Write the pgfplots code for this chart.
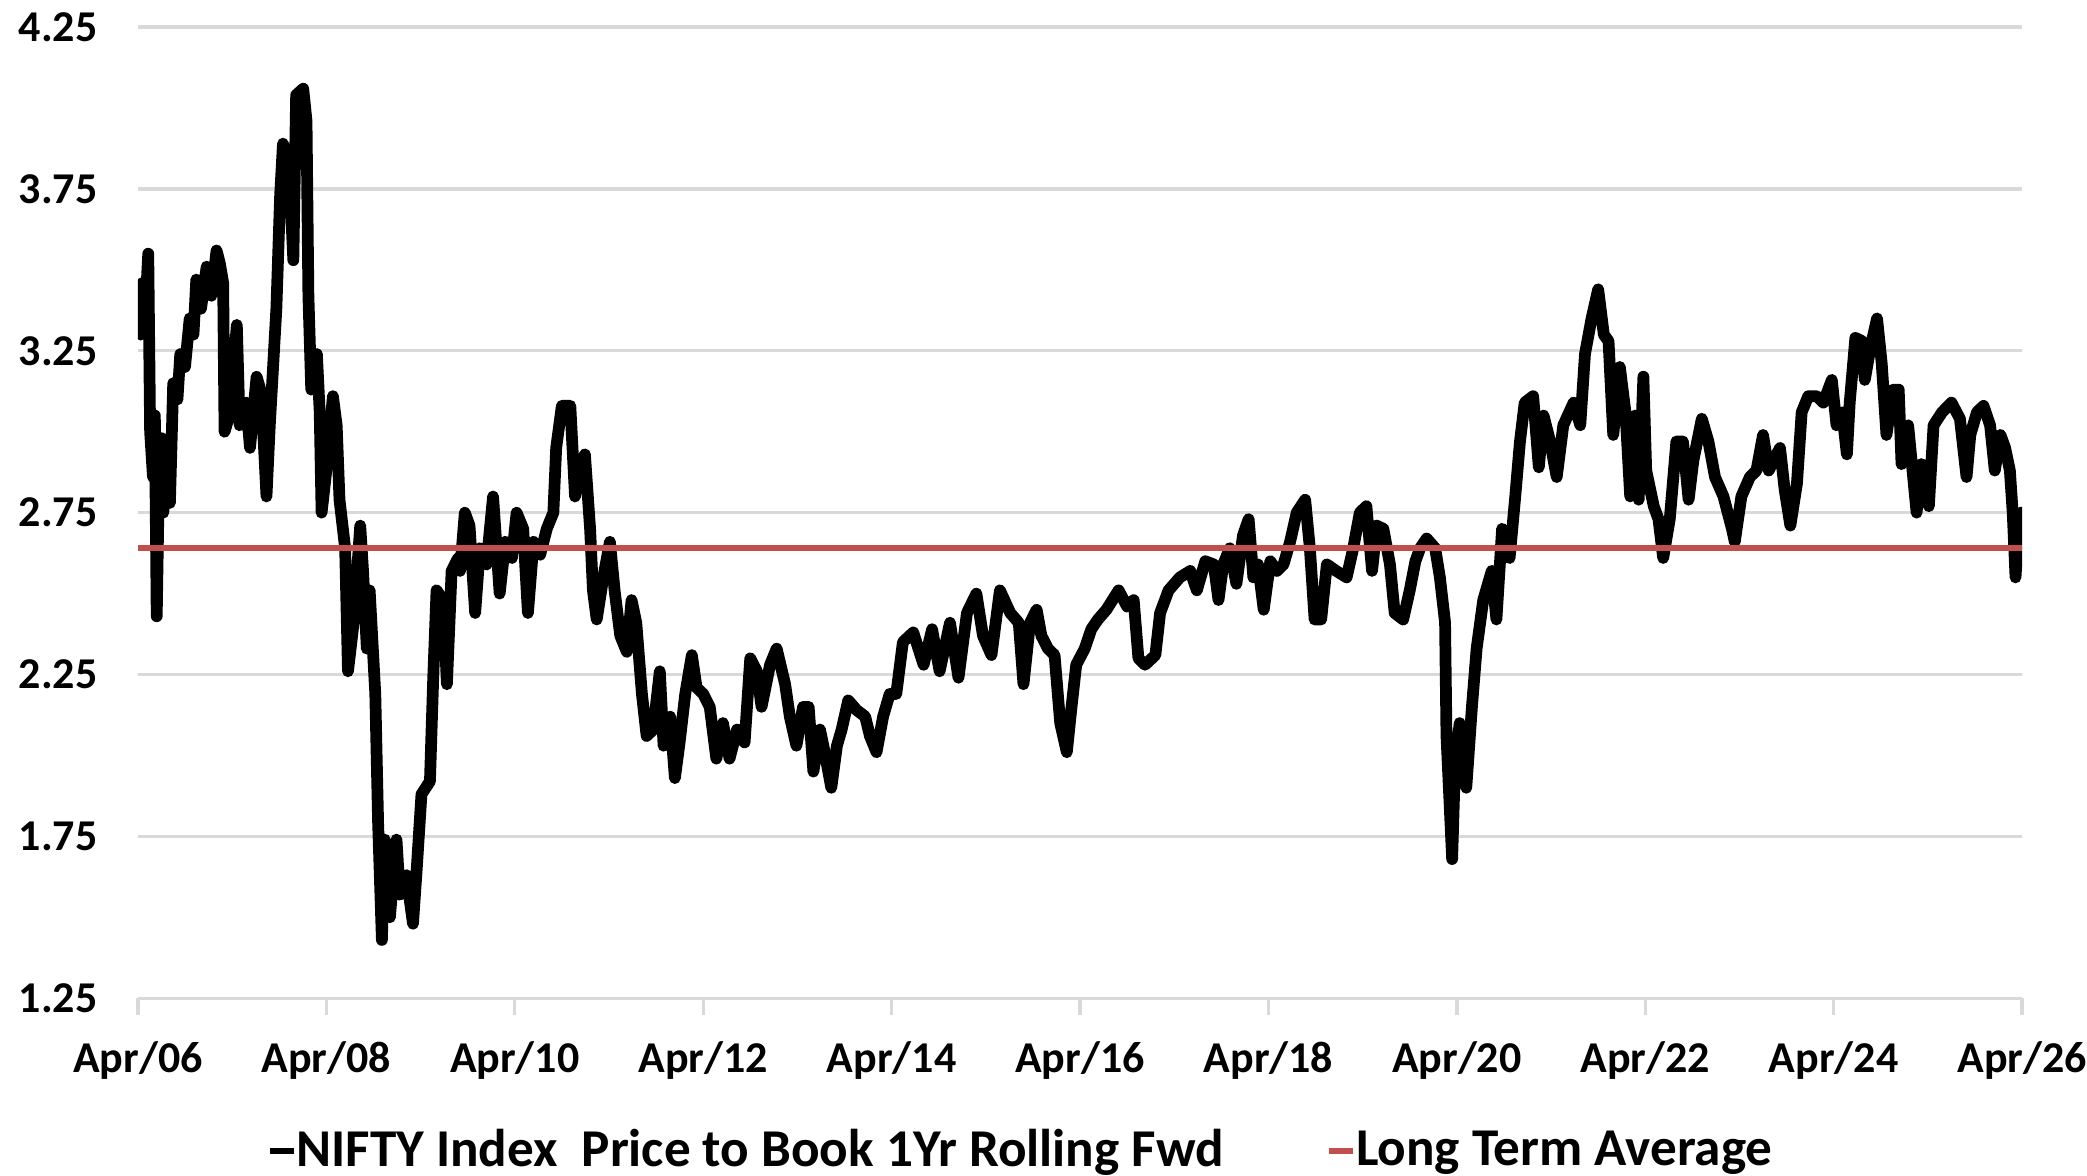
\documentclass[border=0pt]{standalone}
\usepackage{fontspec}
\setmainfont{Carlito}
\usepackage{pgfplots}
\pgfplotsset{compat=1.18}
\definecolor{ltared}{RGB}{192,80,77}
\definecolor{gridgray}{RGB}{217,217,217}

\begin{document}
\begin{tikzpicture}
\begin{axis}[
  at={(0,0)}, anchor=south west,
  scale only axis, width=513.8pt, height=264.8pt,
  xmin=2006.25, xmax=2026.25, ymin=1.25, ymax=4.25,
  xtick={2006.25,2008.25,2010.25,2012.25,2014.25,2016.25,2018.25,2020.25,2022.25,2024.25,2026.25},
  xticklabels={Apr/06,Apr/08,Apr/10,Apr/12,Apr/14,Apr/16,Apr/18,Apr/20,Apr/22,Apr/24,Apr/26},
  ytick={1.25,1.75,2.25,2.75,3.25,3.75,4.25},
  yticklabel style={/pgf/number format/fixed, /pgf/number format/precision=2,
    /pgf/number format/fixed zerofill, xshift=-2.9pt},
  xticklabel style={yshift=-3.8pt},
  /pgf/number format/assume math mode=true,
  tick label style={font=\bfseries\fontsize{12}{14}\selectfont},
  axis x line*=bottom, axis y line*=left,
  x axis line style={draw=gridgray, line width=0.9pt},
  y axis line style={draw=none},
  ymajorgrids, grid style={gridgray, line width=0.9pt},
  ytick style={draw=none},
  xtick style={draw=gridgray, line width=0.9pt},
  tick align=outside, major tick length=4.6pt,
  legend columns=2,
  legend style={at={(axis description cs:0.068,-0.157)}, anchor=west,
    draw=none, fill=none, inner sep=0pt,
    font=\bfseries\fontsize{14.5}{17}\selectfont,
    nodes={inner sep=0pt},
    /tikz/every even column/.append style={column sep=28pt}},
  legend image code/.code={\draw[#1, line width=1.6pt, line cap=butt] (0pt,0pt) -- (6.5pt,0pt);},
]
\addplot[black, line width=3.2pt, line join=round, line cap=round] coordinates {
(2006.26,3.42) (2006.28,3.30) (2006.30,3.46) (2006.33,3.38) (2006.36,3.55) (2006.38,3.00)
(2006.41,2.86) (2006.43,3.05) (2006.45,2.43) (2006.47,2.80) (2006.50,2.98) (2006.52,2.75)
(2006.56,2.95) (2006.59,2.78) (2006.625,3.15) (2006.67,3.10) (2006.70,3.24) (2006.75,3.20)
(2006.80,3.35) (2006.84,3.30) (2006.87,3.47) (2006.92,3.38) (2006.98,3.51) (2007.03,3.42)
(2007.085,3.56) (2007.12,3.52) (2007.155,3.46) (2007.17,3.00) (2007.23,3.06) (2007.30,3.33)
(2007.33,3.02) (2007.40,3.09) (2007.44,2.95) (2007.51,3.17) (2007.56,3.12) (2007.615,2.80)
(2007.65,3.02) (2007.72,3.38) (2007.76,3.73) (2007.79,3.89) (2007.86,3.78) (2007.90,3.53)
(2007.93,4.04) (2008.005,4.06) (2008.04,3.96) (2008.06,3.42) (2008.09,3.13) (2008.15,3.24)
(2008.18,3.06) (2008.20,2.75) (2008.25,2.88) (2008.32,3.11) (2008.36,3.02) (2008.39,2.79)
(2008.45,2.64) (2008.48,2.26) (2008.54,2.41) (2008.61,2.71) (2008.64,2.57) (2008.68,2.33)
(2008.71,2.51) (2008.77,2.19) (2008.80,1.79) (2008.84,1.43) (2008.87,1.74) (2008.925,1.50)
(2008.995,1.74) (2009.03,1.57) (2009.10,1.63) (2009.17,1.48) (2009.21,1.65) (2009.26,1.88)
(2009.35,1.92) (2009.385,2.24) (2009.42,2.51) (2009.49,2.48) (2009.53,2.22) (2009.58,2.57)
(2009.65,2.61) (2009.67,2.57) (2009.72,2.75) (2009.77,2.71) (2009.83,2.44) (2009.88,2.64)
(2009.95,2.59) (2010.02,2.80) (2010.09,2.50) (2010.15,2.66) (2010.22,2.61) (2010.27,2.75)
(2010.34,2.70) (2010.39,2.44) (2010.45,2.66) (2010.52,2.62) (2010.59,2.70) (2010.66,2.75)
(2010.69,2.95) (2010.75,3.08) (2010.84,3.08) (2010.89,2.80) (2010.94,2.88) (2010.995,2.93)
(2011.05,2.70) (2011.08,2.51) (2011.12,2.42) (2011.19,2.55) (2011.26,2.66) (2011.31,2.51)
(2011.37,2.37) (2011.44,2.32) (2011.49,2.48) (2011.54,2.41) (2011.60,2.19) (2011.65,2.06)
(2011.72,2.08) (2011.79,2.26) (2011.83,2.03) (2011.90,2.12) (2011.95,1.93) (2012.00,2.04)
(2012.06,2.19) (2012.13,2.31) (2012.18,2.21) (2012.25,2.19) (2012.32,2.15) (2012.39,1.99)
(2012.46,2.10) (2012.53,1.99) (2012.61,2.08) (2012.69,2.04) (2012.75,2.30) (2012.82,2.26)
(2012.87,2.15) (2012.96,2.28) (2013.03,2.33) (2013.12,2.22) (2013.17,2.12) (2013.24,2.03)
(2013.31,2.15) (2013.37,2.15) (2013.42,1.95) (2013.49,2.08) (2013.54,2.01) (2013.61,1.90)
(2013.67,2.03) (2013.72,2.08) (2013.79,2.17) (2013.88,2.14) (2013.97,2.12) (2014.02,2.06)
(2014.09,2.01) (2014.16,2.12) (2014.23,2.19) (2014.30,2.19) (2014.37,2.35) (2014.48,2.38)
(2014.59,2.28) (2014.68,2.39) (2014.76,2.26) (2014.87,2.41) (2014.96,2.24) (2015.05,2.44)
(2015.15,2.50) (2015.22,2.37) (2015.31,2.31) (2015.40,2.51) (2015.51,2.44) (2015.60,2.41)
(2015.65,2.22) (2015.72,2.41) (2015.79,2.45) (2015.84,2.37) (2015.91,2.33) (2015.98,2.31)
(2016.04,2.10) (2016.11,2.01) (2016.16,2.15) (2016.21,2.28) (2016.30,2.33) (2016.37,2.39)
(2016.44,2.42) (2016.53,2.45) (2016.66,2.51) (2016.75,2.46) (2016.82,2.48) (2016.87,2.30)
(2016.94,2.28) (2017.05,2.31) (2017.10,2.44) (2017.19,2.51) (2017.31,2.55) (2017.42,2.57)
(2017.49,2.51) (2017.58,2.60) (2017.67,2.59) (2017.72,2.48) (2017.77,2.59) (2017.84,2.64)
(2017.91,2.53) (2017.98,2.68) (2018.04,2.73) (2018.09,2.55) (2018.14,2.59) (2018.20,2.45)
(2018.27,2.60) (2018.34,2.57) (2018.41,2.59) (2018.48,2.66) (2018.55,2.75) (2018.64,2.79)
(2018.69,2.64) (2018.74,2.42) (2018.81,2.42) (2018.87,2.59) (2018.97,2.57) (2019.08,2.55)
(2019.15,2.64) (2019.22,2.75) (2019.29,2.77) (2019.35,2.57) (2019.40,2.71) (2019.47,2.70)
(2019.54,2.59) (2019.59,2.44) (2019.68,2.42) (2019.75,2.51) (2019.81,2.60) (2019.86,2.64)
(2019.93,2.67) (2020.02,2.64) (2020.07,2.55) (2020.125,2.41) (2020.14,2.06) (2020.20,1.68)
(2020.23,1.97) (2020.28,2.10) (2020.35,1.90) (2020.41,2.15) (2020.46,2.33) (2020.53,2.48)
(2020.62,2.57) (2020.67,2.42) (2020.73,2.70) (2020.81,2.61) (2020.87,2.80) (2020.92,2.97)
(2020.97,3.09) (2021.06,3.11) (2021.12,2.89) (2021.17,3.05) (2021.24,2.97) (2021.31,2.86)
(2021.38,3.02) (2021.49,3.09) (2021.56,3.02) (2021.61,3.24) (2021.68,3.35) (2021.75,3.44)
(2021.81,3.30) (2021.86,3.28) (2021.91,2.99) (2021.98,3.20) (2022.04,3.06) (2022.09,2.80)
(2022.14,3.05) (2022.18,2.79) (2022.23,3.17) (2022.26,2.88) (2022.34,2.77) (2022.39,2.73)
(2022.44,2.61) (2022.51,2.73) (2022.58,2.97) (2022.65,2.97) (2022.71,2.79) (2022.76,2.91)
(2022.85,3.04) (2022.92,2.97) (2022.99,2.86) (2023.08,2.80) (2023.17,2.70) (2023.20,2.66)
(2023.27,2.80) (2023.36,2.86) (2023.43,2.88) (2023.50,2.99) (2023.56,2.88) (2023.61,2.91)
(2023.68,2.95) (2023.73,2.82) (2023.79,2.71) (2023.86,2.84) (2023.91,3.06) (2023.98,3.11)
(2024.07,3.11) (2024.14,3.09) (2024.23,3.16) (2024.28,3.02) (2024.34,3.06) (2024.39,2.93)
(2024.42,3.09) (2024.48,3.29) (2024.55,3.28) (2024.58,3.16) (2024.64,3.26) (2024.71,3.35)
(2024.76,3.21) (2024.81,2.99) (2024.88,3.13) (2024.94,3.13) (2024.97,2.90) (2025.04,3.02)
(2025.10,2.84) (2025.13,2.75) (2025.18,2.90) (2025.26,2.77) (2025.31,3.02) (2025.40,3.06)
(2025.50,3.09) (2025.59,3.04) (2025.66,2.86) (2025.70,2.99) (2025.77,3.06) (2025.84,3.08)
(2025.91,3.02) (2025.96,2.88) (2026.02,2.99) (2026.07,2.95) (2026.12,2.88) (2026.15,2.75)
(2026.18,2.55) (2026.21,2.70) (2026.24,2.75)
};
\addlegendentry{NIFTY Index\ \ Price to Book 1Yr Rolling Fwd}
\addplot[ltared, line width=1.6pt] coordinates {(2006.25,2.64) (2026.25,2.64)};
\addlegendentry{Long Term Average}
\end{axis}
\pgfresetboundingbox
\useasboundingbox (-37.6pt,-48.3pt) rectangle (531.5pt,272.2pt);
\end{tikzpicture}
\end{document}
